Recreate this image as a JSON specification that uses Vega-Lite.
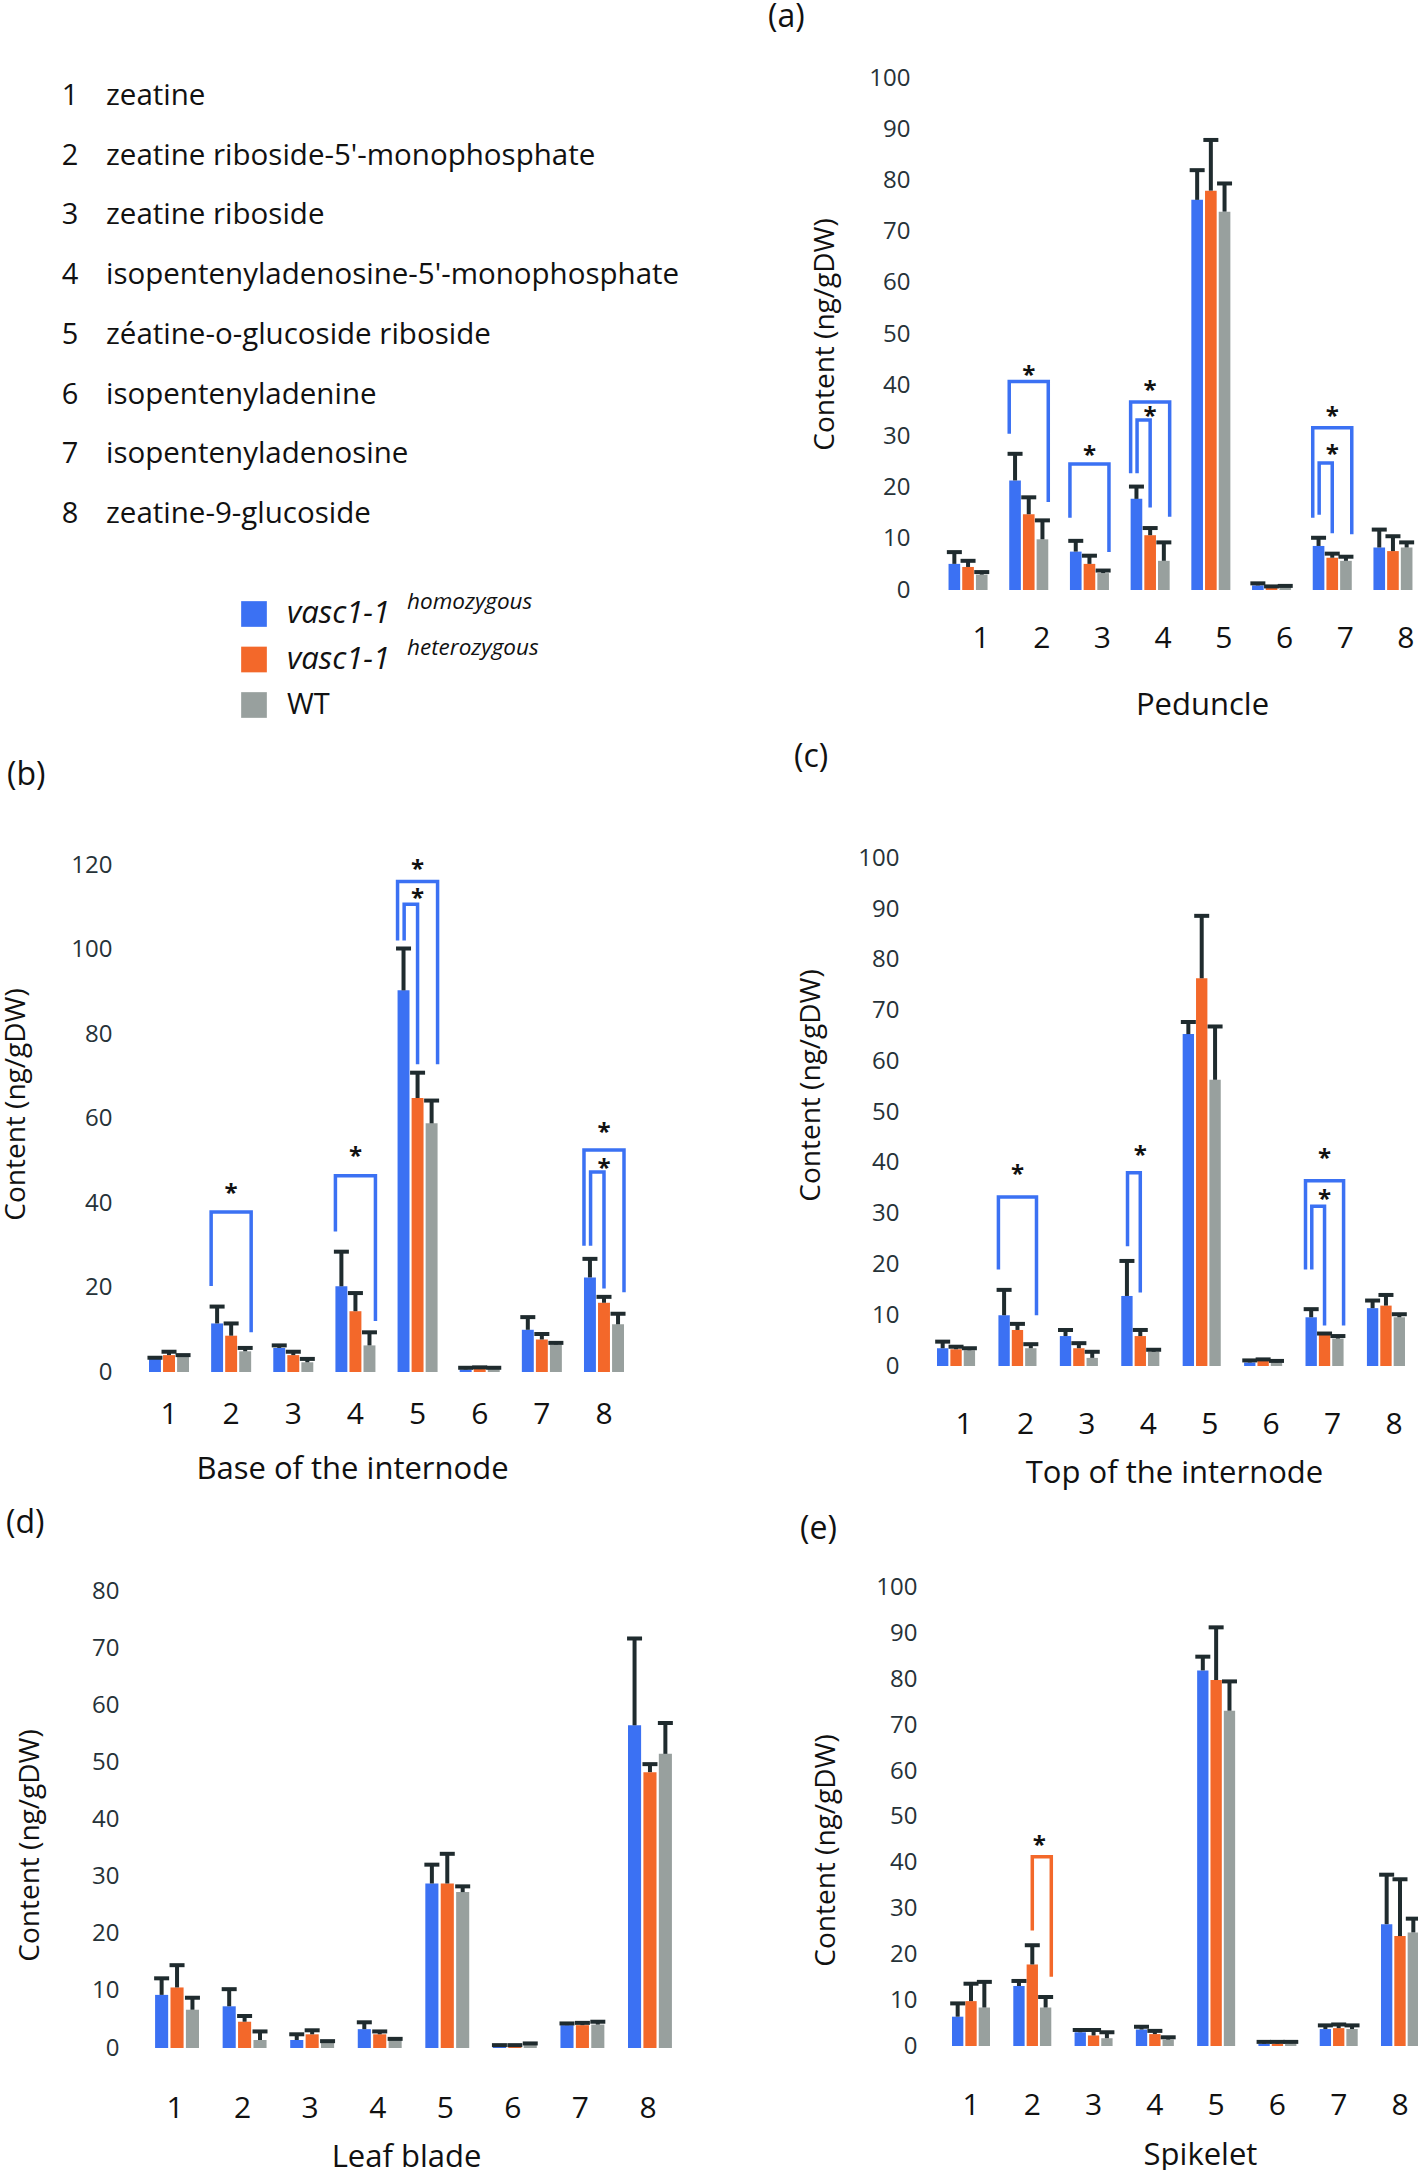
{
  "$schema": "https://vega.github.io/schema/vega-lite/v6.json",
  "background": "white",
  "padding": {"left": 2, "top": 1, "right": 0, "bottom": 0},
  "config": {
    "view": {"stroke": null},
    "font": "Open Sans",
    "axis": {"domain": false, "ticks": false, "grid": false, "tickSize": 0, "labelFont": "Open Sans", "titleFont": "Open Sans"},
    "title": {"font": "Open Sans"},
    "text": {"font": "Open Sans"}
  },
  "datasets": {
    "compounds": [
      {"num": 1, "name": "zeatine"},
      {"num": 2, "name": "zeatine riboside-5'-monophosphate"},
      {"num": 3, "name": "zeatine riboside"},
      {"num": 4, "name": "isopentenyladenosine-5'-monophosphate"},
      {"num": 5, "name": "zéatine-o-glucoside riboside"},
      {"num": 6, "name": "isopentenyladenine"},
      {"num": 7, "name": "isopentenyladenosine"},
      {"num": 8, "name": "zeatine-9-glucoside"}
    ],
    "legend": [
      {"g": "homo", "lab": "vasc1-1", "sup": "homozygous"},
      {"g": "hetero", "lab": "vasc1-1", "sup": "heterozygous"},
      {"g": "WT", "lab": "WT", "sup": ""}
    ],
    "bars": [
      {"p":"a","c":1,"g":"homo","v":5.1,"hi":7.4},{"p":"a","c":1,"g":"hetero","v":4.5,"hi":5.7},{"p":"a","c":1,"g":"WT","v":3.0,"hi":3.5},
      {"p":"a","c":2,"g":"homo","v":21.4,"hi":26.6},{"p":"a","c":2,"g":"hetero","v":14.8,"hi":18.1},{"p":"a","c":2,"g":"WT","v":9.9,"hi":13.6},
      {"p":"a","c":3,"g":"homo","v":7.5,"hi":9.6},{"p":"a","c":3,"g":"hetero","v":5.1,"hi":6.7},{"p":"a","c":3,"g":"WT","v":3.3,"hi":3.8},
      {"p":"a","c":4,"g":"homo","v":17.8,"hi":20.2},{"p":"a","c":4,"g":"hetero","v":10.7,"hi":12.1},{"p":"a","c":4,"g":"WT","v":5.7,"hi":9.3},
      {"p":"a","c":5,"g":"homo","v":76.2,"hi":82.0},{"p":"a","c":5,"g":"hetero","v":78.0,"hi":87.9},{"p":"a","c":5,"g":"WT","v":73.9,"hi":79.4},
      {"p":"a","c":6,"g":"homo","v":0.9,"hi":1.3},{"p":"a","c":6,"g":"hetero","v":0.5,"hi":0.7},{"p":"a","c":6,"g":"WT","v":0.6,"hi":0.8},
      {"p":"a","c":7,"g":"homo","v":8.6,"hi":10.2},{"p":"a","c":7,"g":"hetero","v":6.3,"hi":7.1},{"p":"a","c":7,"g":"WT","v":5.7,"hi":6.5},
      {"p":"a","c":8,"g":"homo","v":8.3,"hi":11.8},{"p":"a","c":8,"g":"hetero","v":7.6,"hi":10.5},{"p":"a","c":8,"g":"WT","v":8.3,"hi":9.3},

      {"p":"b","c":1,"g":"homo","v":3.2,"hi":3.4},{"p":"b","c":1,"g":"hetero","v":4.0,"hi":4.8},{"p":"b","c":1,"g":"WT","v":3.7,"hi":4.0},
      {"p":"b","c":2,"g":"homo","v":11.5,"hi":15.5},{"p":"b","c":2,"g":"hetero","v":8.6,"hi":11.5},{"p":"b","c":2,"g":"WT","v":4.9,"hi":5.7},
      {"p":"b","c":3,"g":"homo","v":5.7,"hi":6.3},{"p":"b","c":3,"g":"hetero","v":4.0,"hi":4.8},{"p":"b","c":3,"g":"WT","v":2.3,"hi":3.1},
      {"p":"b","c":4,"g":"homo","v":20.3,"hi":28.5},{"p":"b","c":4,"g":"hetero","v":14.4,"hi":18.7},{"p":"b","c":4,"g":"WT","v":6.3,"hi":9.4},
      {"p":"b","c":5,"g":"homo","v":90.4,"hi":100.3},{"p":"b","c":5,"g":"hetero","v":64.9,"hi":70.9},{"p":"b","c":5,"g":"WT","v":58.9,"hi":64.3},
      {"p":"b","c":6,"g":"homo","v":0.6,"hi":1.0},{"p":"b","c":6,"g":"hetero","v":0.7,"hi":1.1},{"p":"b","c":6,"g":"WT","v":0.7,"hi":1.0},
      {"p":"b","c":7,"g":"homo","v":10.0,"hi":13.0},{"p":"b","c":7,"g":"hetero","v":7.7,"hi":9.0},{"p":"b","c":7,"g":"WT","v":6.5,"hi":6.9},
      {"p":"b","c":8,"g":"homo","v":22.4,"hi":26.8},{"p":"b","c":8,"g":"hetero","v":16.4,"hi":17.8},{"p":"b","c":8,"g":"WT","v":11.3,"hi":13.8},

      {"p":"c","c":1,"g":"homo","v":3.5,"hi":4.8},{"p":"c","c":1,"g":"hetero","v":3.3,"hi":3.8},{"p":"c","c":1,"g":"WT","v":3.1,"hi":3.5},
      {"p":"c","c":2,"g":"homo","v":10.0,"hi":15.0},{"p":"c","c":2,"g":"hetero","v":7.1,"hi":8.3},{"p":"c","c":2,"g":"WT","v":3.5,"hi":4.3},
      {"p":"c","c":3,"g":"homo","v":5.9,"hi":7.1},{"p":"c","c":3,"g":"hetero","v":3.5,"hi":4.5},{"p":"c","c":3,"g":"WT","v":1.6,"hi":2.8},
      {"p":"c","c":4,"g":"homo","v":13.8,"hi":20.7},{"p":"c","c":4,"g":"hetero","v":5.9,"hi":7.1},{"p":"c","c":4,"g":"WT","v":2.8,"hi":3.2},
      {"p":"c","c":5,"g":"homo","v":65.4,"hi":67.8},{"p":"c","c":5,"g":"hetero","v":76.4,"hi":88.7},{"p":"c","c":5,"g":"WT","v":56.4,"hi":66.9},
      {"p":"c","c":6,"g":"homo","v":0.7,"hi":1.1},{"p":"c","c":6,"g":"hetero","v":1.0,"hi":1.3},{"p":"c","c":6,"g":"WT","v":0.7,"hi":1.0},
      {"p":"c","c":7,"g":"homo","v":9.6,"hi":11.2},{"p":"c","c":7,"g":"hetero","v":6.2,"hi":6.4},{"p":"c","c":7,"g":"WT","v":5.4,"hi":5.9},
      {"p":"c","c":8,"g":"homo","v":11.4,"hi":12.9},{"p":"c","c":8,"g":"hetero","v":11.9,"hi":14.0},{"p":"c","c":8,"g":"WT","v":9.6,"hi":10.2},

      {"p":"d","c":1,"g":"homo","v":9.3,"hi":12.2},{"p":"d","c":1,"g":"hetero","v":10.6,"hi":14.5},{"p":"d","c":1,"g":"WT","v":6.7,"hi":8.8},
      {"p":"d","c":2,"g":"homo","v":7.3,"hi":10.3},{"p":"d","c":2,"g":"hetero","v":4.6,"hi":5.6},{"p":"d","c":2,"g":"WT","v":1.4,"hi":2.9},
      {"p":"d","c":3,"g":"homo","v":1.4,"hi":2.4},{"p":"d","c":3,"g":"hetero","v":2.4,"hi":3.1},{"p":"d","c":3,"g":"WT","v":1.1,"hi":1.2},
      {"p":"d","c":4,"g":"homo","v":3.3,"hi":4.5},{"p":"d","c":4,"g":"hetero","v":2.4,"hi":2.9},{"p":"d","c":4,"g":"WT","v":1.4,"hi":1.6},
      {"p":"d","c":5,"g":"homo","v":28.8,"hi":32.1},{"p":"d","c":5,"g":"hetero","v":28.8,"hi":34.0},{"p":"d","c":5,"g":"WT","v":27.3,"hi":28.3},
      {"p":"d","c":6,"g":"homo","v":0.3,"hi":0.5},{"p":"d","c":6,"g":"hetero","v":0.3,"hi":0.5},{"p":"d","c":6,"g":"WT","v":0.6,"hi":0.8},
      {"p":"d","c":7,"g":"homo","v":4.0,"hi":4.3},{"p":"d","c":7,"g":"hetero","v":4.0,"hi":4.4},{"p":"d","c":7,"g":"WT","v":4.1,"hi":4.6},
      {"p":"d","c":8,"g":"homo","v":56.5,"hi":71.7},{"p":"d","c":8,"g":"hetero","v":48.3,"hi":49.7},{"p":"d","c":8,"g":"WT","v":51.5,"hi":56.9},

      {"p":"e","c":1,"g":"homo","v":6.4,"hi":9.3},{"p":"e","c":1,"g":"hetero","v":9.8,"hi":13.6},{"p":"e","c":1,"g":"WT","v":8.4,"hi":14.0},
      {"p":"e","c":2,"g":"homo","v":13.1,"hi":14.2},{"p":"e","c":2,"g":"hetero","v":17.8,"hi":22.0},{"p":"e","c":2,"g":"WT","v":8.4,"hi":10.7},
      {"p":"e","c":3,"g":"homo","v":3.0,"hi":3.5},{"p":"e","c":3,"g":"hetero","v":2.3,"hi":3.5},{"p":"e","c":3,"g":"WT","v":1.7,"hi":3.0},
      {"p":"e","c":4,"g":"homo","v":3.6,"hi":4.2},{"p":"e","c":4,"g":"hetero","v":2.6,"hi":3.3},{"p":"e","c":4,"g":"WT","v":1.4,"hi":1.9},
      {"p":"e","c":5,"g":"homo","v":82.0,"hi":85.0},{"p":"e","c":5,"g":"hetero","v":79.9,"hi":91.4},{"p":"e","c":5,"g":"WT","v":73.2,"hi":79.6},
      {"p":"e","c":6,"g":"homo","v":0.5,"hi":0.9},{"p":"e","c":6,"g":"hetero","v":0.5,"hi":0.9},{"p":"e","c":6,"g":"WT","v":0.6,"hi":0.9},
      {"p":"e","c":7,"g":"homo","v":3.7,"hi":4.5},{"p":"e","c":7,"g":"hetero","v":3.9,"hi":4.7},{"p":"e","c":7,"g":"WT","v":3.7,"hi":4.5},
      {"p":"e","c":8,"g":"homo","v":26.6,"hi":37.4},{"p":"e","c":8,"g":"hetero","v":24.0,"hi":36.4},{"p":"e","c":8,"g":"WT","v":24.8,"hi":27.8}
    ],
    "brackets": [
      {"p":"a","id":"a2","lvl":"o","ref":"homo","c":2,"g":"homo","o":1,"v":30.5},{"p":"a","id":"a2","lvl":"o","ref":"homo","c":2,"g":"homo","o":2,"v":40.7},{"p":"a","id":"a2","lvl":"o","ref":"homo","c":2,"g":"WT","o":3,"v":40.7},{"p":"a","id":"a2","lvl":"o","ref":"homo","c":2,"g":"WT","o":4,"v":17.2},
      {"p":"a","id":"a3","lvl":"o","ref":"homo","c":3,"g":"homo","o":1,"v":14.1},{"p":"a","id":"a3","lvl":"o","ref":"homo","c":3,"g":"homo","o":2,"v":24.6},{"p":"a","id":"a3","lvl":"o","ref":"homo","c":3,"g":"WT","o":3,"v":24.6},{"p":"a","id":"a3","lvl":"o","ref":"homo","c":3,"g":"WT","o":4,"v":7.4},
      {"p":"a","id":"a4o","lvl":"o","ref":"homo","c":4,"g":"homo","o":1,"v":22.8},{"p":"a","id":"a4o","lvl":"o","ref":"homo","c":4,"g":"homo","o":2,"v":36.7},{"p":"a","id":"a4o","lvl":"o","ref":"homo","c":4,"g":"WT","o":3,"v":36.7},{"p":"a","id":"a4o","lvl":"o","ref":"homo","c":4,"g":"WT","o":4,"v":14.3},
      {"p":"a","id":"a4i","lvl":"i","ref":"homo","c":4,"g":"homo","o":1,"v":22.8},{"p":"a","id":"a4i","lvl":"i","ref":"homo","c":4,"g":"homo","o":2,"v":33.2},{"p":"a","id":"a4i","lvl":"i","ref":"homo","c":4,"g":"hetero","o":3,"v":33.2},{"p":"a","id":"a4i","lvl":"i","ref":"homo","c":4,"g":"hetero","o":4,"v":16.1},
      {"p":"a","id":"a7o","lvl":"o","ref":"homo","c":7,"g":"homo","o":1,"v":14.1},{"p":"a","id":"a7o","lvl":"o","ref":"homo","c":7,"g":"homo","o":2,"v":31.7},{"p":"a","id":"a7o","lvl":"o","ref":"homo","c":7,"g":"WT","o":3,"v":31.7},{"p":"a","id":"a7o","lvl":"o","ref":"homo","c":7,"g":"WT","o":4,"v":10.9},
      {"p":"a","id":"a7i","lvl":"i","ref":"homo","c":7,"g":"homo","o":1,"v":14.7},{"p":"a","id":"a7i","lvl":"i","ref":"homo","c":7,"g":"homo","o":2,"v":24.8},{"p":"a","id":"a7i","lvl":"i","ref":"homo","c":7,"g":"hetero","o":3,"v":24.8},{"p":"a","id":"a7i","lvl":"i","ref":"homo","c":7,"g":"hetero","o":4,"v":11.1},

      {"p":"b","id":"b2","lvl":"o","ref":"homo","c":2,"g":"homo","o":1,"v":20.4},{"p":"b","id":"b2","lvl":"o","ref":"homo","c":2,"g":"homo","o":2,"v":37.9},{"p":"b","id":"b2","lvl":"o","ref":"homo","c":2,"g":"WT","o":3,"v":37.9},{"p":"b","id":"b2","lvl":"o","ref":"homo","c":2,"g":"WT","o":4,"v":9.4},
      {"p":"b","id":"b4","lvl":"o","ref":"homo","c":4,"g":"homo","o":1,"v":33.3},{"p":"b","id":"b4","lvl":"o","ref":"homo","c":4,"g":"homo","o":2,"v":46.5},{"p":"b","id":"b4","lvl":"o","ref":"homo","c":4,"g":"WT","o":3,"v":46.5},{"p":"b","id":"b4","lvl":"o","ref":"homo","c":4,"g":"WT","o":4,"v":12.1},
      {"p":"b","id":"b5o","lvl":"o","ref":"homo","c":5,"g":"homo","o":1,"v":102.2},{"p":"b","id":"b5o","lvl":"o","ref":"homo","c":5,"g":"homo","o":2,"v":116.2},{"p":"b","id":"b5o","lvl":"o","ref":"homo","c":5,"g":"WT","o":3,"v":116.2},{"p":"b","id":"b5o","lvl":"o","ref":"homo","c":5,"g":"WT","o":4,"v":72.9},
      {"p":"b","id":"b5i","lvl":"i","ref":"homo","c":5,"g":"homo","o":1,"v":102.2},{"p":"b","id":"b5i","lvl":"i","ref":"homo","c":5,"g":"homo","o":2,"v":110.8},{"p":"b","id":"b5i","lvl":"i","ref":"homo","c":5,"g":"hetero","o":3,"v":110.8},{"p":"b","id":"b5i","lvl":"i","ref":"homo","c":5,"g":"hetero","o":4,"v":72.9},
      {"p":"b","id":"b8o","lvl":"o","ref":"homo","c":8,"g":"homo","o":1,"v":29.9},{"p":"b","id":"b8o","lvl":"o","ref":"homo","c":8,"g":"homo","o":2,"v":52.6},{"p":"b","id":"b8o","lvl":"o","ref":"homo","c":8,"g":"WT","o":3,"v":52.6},{"p":"b","id":"b8o","lvl":"o","ref":"homo","c":8,"g":"WT","o":4,"v":18.9},
      {"p":"b","id":"b8i","lvl":"i","ref":"homo","c":8,"g":"homo","o":1,"v":29.9},{"p":"b","id":"b8i","lvl":"i","ref":"homo","c":8,"g":"homo","o":2,"v":47.4},{"p":"b","id":"b8i","lvl":"i","ref":"homo","c":8,"g":"hetero","o":3,"v":47.4},{"p":"b","id":"b8i","lvl":"i","ref":"homo","c":8,"g":"hetero","o":4,"v":19.8},

      {"p":"c","id":"c2","lvl":"o","ref":"homo","c":2,"g":"homo","o":1,"v":19.0},{"p":"c","id":"c2","lvl":"o","ref":"homo","c":2,"g":"homo","o":2,"v":33.3},{"p":"c","id":"c2","lvl":"o","ref":"homo","c":2,"g":"WT","o":3,"v":33.3},{"p":"c","id":"c2","lvl":"o","ref":"homo","c":2,"g":"WT","o":4,"v":10.0},
      {"p":"c","id":"c4","lvl":"i","ref":"homo","c":4,"g":"homo","o":1,"v":23.6},{"p":"c","id":"c4","lvl":"i","ref":"homo","c":4,"g":"homo","o":2,"v":38.1},{"p":"c","id":"c4","lvl":"i","ref":"homo","c":4,"g":"hetero","o":3,"v":38.1},{"p":"c","id":"c4","lvl":"i","ref":"homo","c":4,"g":"hetero","o":4,"v":14.5},
      {"p":"c","id":"c7o","lvl":"o","ref":"homo","c":7,"g":"homo","o":1,"v":19.0},{"p":"c","id":"c7o","lvl":"o","ref":"homo","c":7,"g":"homo","o":2,"v":36.5},{"p":"c","id":"c7o","lvl":"o","ref":"homo","c":7,"g":"WT","o":3,"v":36.5},{"p":"c","id":"c7o","lvl":"o","ref":"homo","c":7,"g":"WT","o":4,"v":8.0},
      {"p":"c","id":"c7i","lvl":"i","ref":"homo","c":7,"g":"homo","o":1,"v":19.0},{"p":"c","id":"c7i","lvl":"i","ref":"homo","c":7,"g":"homo","o":2,"v":31.5},{"p":"c","id":"c7i","lvl":"i","ref":"homo","c":7,"g":"hetero","o":3,"v":31.5},{"p":"c","id":"c7i","lvl":"i","ref":"homo","c":7,"g":"hetero","o":4,"v":8.0},

      {"p":"e","id":"e2","lvl":"o","ref":"hetero","c":2,"g":"hetero","o":1,"v":25.2},{"p":"e","id":"e2","lvl":"o","ref":"hetero","c":2,"g":"hetero","o":2,"v":41.3},{"p":"e","id":"e2","lvl":"o","ref":"hetero","c":2,"g":"WT","o":3,"v":41.3},{"p":"e","id":"e2","lvl":"o","ref":"hetero","c":2,"g":"WT","o":4,"v":15.1}
    ],
    "stars": [
      {"p":"a","c":2,"v":43.2},{"p":"a","c":3,"v":27.5},{"p":"a","c":4,"v":40.3},{"p":"a","c":4,"v":35.2},{"p":"a","c":7,"v":35.2},{"p":"a","c":7,"v":27.8},
      {"p":"b","c":2,"v":43.9},{"p":"b","c":4,"v":52.5},{"p":"b","c":5,"v":120.6},{"p":"b","c":5,"v":113.7},{"p":"b","c":8,"v":58.2},{"p":"b","c":8,"v":49.7},
      {"p":"c","c":2,"v":39.1},{"p":"c","c":4,"v":42.7},{"p":"c","c":7,"v":42.2},{"p":"c","c":7,"v":34.1},
      {"p":"e","c":2,"v":45.3}
    ]
  },
  "columns": 2,
  "spacing": {"row": 90, "column": 259},
  "bounds": "flush",
  "concat": [
    {
      "width": 10, "height": 640,
      "resolve": {"scale": {"y": "independent"}},
      "layer": [
        {"data": {"name": "compounds"},
         "mark": {"type": "text", "align": "center", "baseline": "middle", "xOffset": -84, "fontSize": 29, "color": "#111111"},
         "encoding": {"y": {"field": "num", "type": "ordinal", "scale": {"type": "point", "padding": 0, "range": [18, 436]}, "axis": null}, "text": {"field": "num"}}},
        {"data": {"name": "compounds"},
         "mark": {"type": "text", "align": "left", "baseline": "middle", "xOffset": -48, "fontSize": 29.5, "color": "#111111"},
         "encoding": {"y": {"field": "num", "type": "ordinal", "scale": {"type": "point", "padding": 0, "range": [18, 436]}, "axis": null}, "text": {"field": "name"}}},
        {"data": {"name": "legend"},
         "mark": {"type": "point", "shape": "square", "filled": true, "size": 660, "opacity": 1, "xOffset": 100},
         "encoding": {"y": {"field": "g", "type": "nominal", "scale": {"type": "point", "domain": ["homo","hetero","WT"], "padding": 0, "range": [536, 627]}, "axis": null},
                      "color": {"field": "g", "type": "nominal", "scale": {"domain": ["homo","hetero","WT"], "range": ["#3B71F3","#F3682A","#98A09E"]}, "legend": null}}},
        {"data": {"name": "legend"}, "transform": [{"filter": "datum.g != 'WT'"}],
         "mark": {"type": "text", "align": "left", "baseline": "middle", "xOffset": 133, "fontSize": 31, "fontStyle": "italic", "color": "#111111"},
         "encoding": {"y": {"field": "g", "type": "nominal", "scale": {"type": "point", "domain": ["homo","hetero","WT"], "padding": 0, "range": [536, 627]}, "axis": null}, "text": {"field": "lab"}}},
        {"data": {"name": "legend"}, "transform": [{"filter": "datum.g == 'WT'"}],
         "mark": {"type": "text", "align": "left", "baseline": "middle", "xOffset": 133, "fontSize": 29, "color": "#111111"},
         "encoding": {"y": {"field": "g", "type": "nominal", "scale": {"type": "point", "domain": ["homo","hetero","WT"], "padding": 0, "range": [536, 627]}, "axis": null}, "text": {"field": "lab"}}},
        {"data": {"name": "legend"}, "transform": [{"filter": "datum.g != 'WT'"}],
         "mark": {"type": "text", "align": "left", "baseline": "middle", "xOffset": 253, "yOffset": -12, "fontSize": 22.5, "fontStyle": "italic", "color": "#111111"},
         "encoding": {"y": {"field": "g", "type": "nominal", "scale": {"type": "point", "domain": ["homo","hetero","WT"], "padding": 0, "range": [536, 627]}, "axis": null}, "text": {"field": "sup"}}}
      ]
    },
    {
      "width": 487, "height": 512,
      "title": {"text": "(a)", "anchor": "start", "frame": "group", "orient": "top", "offset": 0, "baseline": "middle", "dx": -169, "dy": -17, "fontSize": 32, "fontWeight": "normal", "color": "#111111"},
      "resolve": {"scale": {"xOffset": "independent"}},
      "encoding": {
        "x": {"field": "c", "type": "ordinal", "scale": {"domain": [1,2,3,4,5,6,7,8], "paddingInner": 0.357, "paddingOuter": 0.19},
              "axis": {"title": "Peduncle", "labelAngle": 0, "labelFontSize": 30, "labelPadding": 33, "labelOffset": 13, "labelColor": "#111111", "titleFontSize": 31, "titleFontWeight": "normal", "titleColor": "#111111", "titleX": 265, "titleY": 115, "titleBaseline": "middle", "titleAlign": "center"}},
        "y": {"field": "v", "type": "quantitative", "stack": null, "scale": {"domain": [0, 100], "nice": false},
              "axis": {"title": "Content (ng/gDW)", "values": [0,10,20,30,40,50,60,70,80,90,100], "labelFontSize": 24, "labelPadding": 27, "labelColor": "#263238", "titleFontSize": 28, "titleFontWeight": "normal", "titleColor": "#111111", "titleX": -112, "titleY": 256, "titleBaseline": "middle", "titleAlign": "center", "titleAngle": -90}}
      },
      "layer": [
        {"data": {"name": "bars"}, "transform": [{"filter": "datum.p == 'a'"}], "mark": {"type": "bar"},
         "encoding": {"xOffset": {"field": "g", "type": "nominal", "scale": {"domain": ["homo","hetero","WT"], "paddingInner": 0.15, "paddingOuter": 0}},
                      "color": {"field": "g", "type": "nominal", "scale": {"domain": ["homo","hetero","WT"], "range": ["#3B71F3","#F3682A","#98A09E"]}, "legend": null}}},
        {"data": {"name": "bars"}, "transform": [{"filter": "datum.p == 'a'"}], "mark": {"type": "rule", "color": "#1F2B2E", "strokeWidth": 4},
         "encoding": {"xOffset": {"field": "g", "type": "nominal", "scale": {"domain": ["homo","hetero","WT"], "paddingInner": 0.15, "paddingOuter": 0}}, "y2": {"field": "hi"}}},
        {"data": {"name": "bars"}, "transform": [{"filter": "datum.p == 'a'"}], "mark": {"type": "tick", "color": "#1F2B2E", "thickness": 4, "size": 15, "opacity": 1},
         "encoding": {"xOffset": {"field": "g", "type": "nominal", "scale": {"domain": ["homo","hetero","WT"], "paddingInner": 0.15, "paddingOuter": 0}},
                      "y": {"field": "hi", "type": "quantitative"}}},
        {"data": {"name": "brackets"}, "transform": [{"filter": "datum.p == 'a' && datum.lvl == 'o'"}], "mark": {"type": "line", "strokeWidth": 3.5},
         "encoding": {"xOffset": {"field": "g", "type": "nominal", "scale": {"domain": ["homo","hetero","WT"], "paddingInner": 0.733, "paddingOuter": 0}},
                      "color": {"field": "ref", "type": "nominal", "scale": {"domain": ["homo","hetero","WT"], "range": ["#3B71F3","#F3682A","#98A09E"]}, "legend": null},
                      "detail": {"field": "id"}, "order": {"field": "o"}}},
        {"data": {"name": "brackets"}, "transform": [{"filter": "datum.p == 'a' && datum.lvl == 'i'"}], "mark": {"type": "line", "strokeWidth": 3.5},
         "encoding": {"xOffset": {"field": "g", "type": "nominal", "scale": {"domain": ["homo","hetero","WT"], "paddingInner": 0.5, "paddingOuter": 0.491}},
                      "color": {"field": "ref", "type": "nominal", "scale": {"domain": ["homo","hetero","WT"], "range": ["#3B71F3","#F3682A","#98A09E"]}, "legend": null},
                      "detail": {"field": "id"}, "order": {"field": "o"}}},
        {"data": {"name": "stars"}, "transform": [{"filter": "datum.p == 'a'"}], "mark": {"type": "text", "text": "*", "fontSize": 24, "fontWeight": "bold", "baseline": "middle", "dy": 7, "color": "#111111"}}
      ]
    },
    {
      "width": 475, "height": 564,
      "title": {"text": "(b)", "anchor": "start", "frame": "group", "orient": "top", "offset": 0, "baseline": "middle", "dx": -142, "dy": -1, "fontSize": 32, "fontWeight": "normal", "color": "#111111"},
      "resolve": {"scale": {"xOffset": "independent"}},
      "encoding": {
        "x": {"field": "c", "type": "ordinal", "scale": {"domain": [1,2,3,4,5,6,7,8], "paddingInner": 0.356, "paddingOuter": 0},
              "axis": {"title": "Base of the internode", "labelAngle": 0, "labelFontSize": 30, "labelPadding": 27, "labelOffset": 0, "labelColor": "#111111", "titleFontSize": 31, "titleFontWeight": "normal", "titleColor": "#111111", "titleX": 203, "titleY": 97, "titleBaseline": "middle", "titleAlign": "center"}},
        "y": {"field": "v", "type": "quantitative", "stack": null, "scale": {"domain": [0, 133.6], "nice": false},
              "axis": {"title": "Content (ng/gDW)", "values": [0,20,40,60,80,100,120], "labelFontSize": 24, "labelPadding": 37, "labelColor": "#263238", "titleFontSize": 28, "titleFontWeight": "normal", "titleColor": "#111111", "titleX": -133, "titleY": 296, "titleBaseline": "middle", "titleAlign": "center", "titleAngle": -90}}
      },
      "layer": [
        {"data": {"name": "bars"}, "transform": [{"filter": "datum.p == 'b'"}], "mark": {"type": "bar"},
         "encoding": {"xOffset": {"field": "g", "type": "nominal", "scale": {"domain": ["homo","hetero","WT"], "paddingInner": 0.15, "paddingOuter": 0}},
                      "color": {"field": "g", "type": "nominal", "scale": {"domain": ["homo","hetero","WT"], "range": ["#3B71F3","#F3682A","#98A09E"]}, "legend": null}}},
        {"data": {"name": "bars"}, "transform": [{"filter": "datum.p == 'b'"}], "mark": {"type": "rule", "color": "#1F2B2E", "strokeWidth": 4},
         "encoding": {"xOffset": {"field": "g", "type": "nominal", "scale": {"domain": ["homo","hetero","WT"], "paddingInner": 0.15, "paddingOuter": 0}}, "y2": {"field": "hi"}}},
        {"data": {"name": "bars"}, "transform": [{"filter": "datum.p == 'b'"}], "mark": {"type": "tick", "color": "#1F2B2E", "thickness": 4, "size": 15, "opacity": 1},
         "encoding": {"xOffset": {"field": "g", "type": "nominal", "scale": {"domain": ["homo","hetero","WT"], "paddingInner": 0.15, "paddingOuter": 0}},
                      "y": {"field": "hi", "type": "quantitative"}}},
        {"data": {"name": "brackets"}, "transform": [{"filter": "datum.p == 'b' && datum.lvl == 'o'"}], "mark": {"type": "line", "strokeWidth": 3.5},
         "encoding": {"xOffset": {"field": "g", "type": "nominal", "scale": {"domain": ["homo","hetero","WT"], "paddingInner": 0.733, "paddingOuter": 0}},
                      "color": {"field": "ref", "type": "nominal", "scale": {"domain": ["homo","hetero","WT"], "range": ["#3B71F3","#F3682A","#98A09E"]}, "legend": null},
                      "detail": {"field": "id"}, "order": {"field": "o"}}},
        {"data": {"name": "brackets"}, "transform": [{"filter": "datum.p == 'b' && datum.lvl == 'i'"}], "mark": {"type": "line", "strokeWidth": 3.5},
         "encoding": {"xOffset": {"field": "g", "type": "nominal", "scale": {"domain": ["homo","hetero","WT"], "paddingInner": 0.5, "paddingOuter": 0.491}},
                      "color": {"field": "ref", "type": "nominal", "scale": {"domain": ["homo","hetero","WT"], "range": ["#3B71F3","#F3682A","#98A09E"]}, "legend": null},
                      "detail": {"field": "id"}, "order": {"field": "o"}}},
        {"data": {"name": "stars"}, "transform": [{"filter": "datum.p == 'b'"}], "mark": {"type": "text", "text": "*", "fontSize": 24, "fontWeight": "bold", "baseline": "middle", "dy": 7, "color": "#111111"}}
      ]
    },
    {
      "width": 468, "height": 558,
      "title": {"text": "(c)", "anchor": "start", "frame": "group", "orient": "top", "offset": 0, "baseline": "middle", "dx": -143, "dy": -19, "fontSize": 32, "fontWeight": "normal", "color": "#111111"},
      "resolve": {"scale": {"xOffset": "independent"}},
      "encoding": {
        "x": {"field": "c", "type": "ordinal", "scale": {"domain": [1,2,3,4,5,6,7,8], "paddingInner": 0.38, "paddingOuter": 0},
              "axis": {"title": "Top of the internode", "labelAngle": 0, "labelFontSize": 30, "labelPadding": 43, "labelOffset": 8, "labelColor": "#111111", "titleFontSize": 31, "titleFontWeight": "normal", "titleColor": "#111111", "titleX": 237, "titleY": 107, "titleBaseline": "middle", "titleAlign": "center"}},
        "y": {"field": "v", "type": "quantitative", "stack": null, "scale": {"domain": [0, 109.95], "nice": false},
              "axis": {"title": "Content (ng/gDW)", "values": [0,10,20,30,40,50,60,70,80,90,100], "labelFontSize": 24, "labelPadding": 38, "labelColor": "#263238", "titleFontSize": 28, "titleFontWeight": "normal", "titleColor": "#111111", "titleX": -126, "titleY": 277, "titleBaseline": "middle", "titleAlign": "center", "titleAngle": -90}}
      },
      "layer": [
        {"data": {"name": "bars"}, "transform": [{"filter": "datum.p == 'c'"}], "mark": {"type": "bar"},
         "encoding": {"xOffset": {"field": "g", "type": "nominal", "scale": {"domain": ["homo","hetero","WT"], "paddingInner": 0.15, "paddingOuter": 0}},
                      "color": {"field": "g", "type": "nominal", "scale": {"domain": ["homo","hetero","WT"], "range": ["#3B71F3","#F3682A","#98A09E"]}, "legend": null}}},
        {"data": {"name": "bars"}, "transform": [{"filter": "datum.p == 'c'"}], "mark": {"type": "rule", "color": "#1F2B2E", "strokeWidth": 4},
         "encoding": {"xOffset": {"field": "g", "type": "nominal", "scale": {"domain": ["homo","hetero","WT"], "paddingInner": 0.15, "paddingOuter": 0}}, "y2": {"field": "hi"}}},
        {"data": {"name": "bars"}, "transform": [{"filter": "datum.p == 'c'"}], "mark": {"type": "tick", "color": "#1F2B2E", "thickness": 4, "size": 15, "opacity": 1},
         "encoding": {"xOffset": {"field": "g", "type": "nominal", "scale": {"domain": ["homo","hetero","WT"], "paddingInner": 0.15, "paddingOuter": 0}},
                      "y": {"field": "hi", "type": "quantitative"}}},
        {"data": {"name": "brackets"}, "transform": [{"filter": "datum.p == 'c' && datum.lvl == 'o'"}], "mark": {"type": "line", "strokeWidth": 3.5},
         "encoding": {"xOffset": {"field": "g", "type": "nominal", "scale": {"domain": ["homo","hetero","WT"], "paddingInner": 0.733, "paddingOuter": 0}},
                      "color": {"field": "ref", "type": "nominal", "scale": {"domain": ["homo","hetero","WT"], "range": ["#3B71F3","#F3682A","#98A09E"]}, "legend": null},
                      "detail": {"field": "id"}, "order": {"field": "o"}}},
        {"data": {"name": "brackets"}, "transform": [{"filter": "datum.p == 'c' && datum.lvl == 'i'"}], "mark": {"type": "line", "strokeWidth": 3.5},
         "encoding": {"xOffset": {"field": "g", "type": "nominal", "scale": {"domain": ["homo","hetero","WT"], "paddingInner": 0.5, "paddingOuter": 0.491}},
                      "color": {"field": "ref", "type": "nominal", "scale": {"domain": ["homo","hetero","WT"], "range": ["#3B71F3","#F3682A","#98A09E"]}, "legend": null},
                      "detail": {"field": "id"}, "order": {"field": "o"}}},
        {"data": {"name": "stars"}, "transform": [{"filter": "datum.p == 'c'"}], "mark": {"type": "text", "text": "*", "fontSize": 24, "fontWeight": "bold", "baseline": "middle", "dy": 7, "color": "#111111"}}
      ]
    },
    {
      "width": 529, "height": 586,
      "title": {"text": "(d)", "anchor": "start", "frame": "group", "orient": "top", "offset": 0, "baseline": "middle", "dx": -143, "dy": 93, "fontSize": 32, "fontWeight": "normal", "color": "#111111"},
      "resolve": {"scale": {"xOffset": "independent"}},
      "encoding": {
        "x": {"field": "c", "type": "ordinal", "scale": {"domain": [1,2,3,4,5,6,7,8], "paddingInner": 0.35, "paddingOuter": 0.09},
              "axis": {"title": "Leaf blade", "labelAngle": 0, "labelFontSize": 30, "labelPadding": 45, "labelOffset": -2, "labelColor": "#111111", "titleFontSize": 31, "titleFontWeight": "normal", "titleColor": "#111111", "titleX": 257, "titleY": 109, "titleBaseline": "middle", "titleAlign": "center"}},
        "y": {"field": "v", "type": "quantitative", "stack": null, "scale": {"domain": [0, 102.6], "nice": false},
              "axis": {"title": "Content (ng/gDW)", "values": [0,10,20,30,40,50,60,70,80], "labelFontSize": 24, "labelPadding": 30, "labelColor": "#263238", "titleFontSize": 28, "titleFontWeight": "normal", "titleColor": "#111111", "titleX": -119, "titleY": 383, "titleBaseline": "middle", "titleAlign": "center", "titleAngle": -90}}
      },
      "layer": [
        {"data": {"name": "bars"}, "transform": [{"filter": "datum.p == 'd'"}], "mark": {"type": "bar"},
         "encoding": {"xOffset": {"field": "g", "type": "nominal", "scale": {"domain": ["homo","hetero","WT"], "paddingInner": 0.15, "paddingOuter": 0}},
                      "color": {"field": "g", "type": "nominal", "scale": {"domain": ["homo","hetero","WT"], "range": ["#3B71F3","#F3682A","#98A09E"]}, "legend": null}}},
        {"data": {"name": "bars"}, "transform": [{"filter": "datum.p == 'd'"}], "mark": {"type": "rule", "color": "#1F2B2E", "strokeWidth": 4},
         "encoding": {"xOffset": {"field": "g", "type": "nominal", "scale": {"domain": ["homo","hetero","WT"], "paddingInner": 0.15, "paddingOuter": 0}}, "y2": {"field": "hi"}}},
        {"data": {"name": "bars"}, "transform": [{"filter": "datum.p == 'd'"}], "mark": {"type": "tick", "color": "#1F2B2E", "thickness": 4, "size": 15, "opacity": 1},
         "encoding": {"xOffset": {"field": "g", "type": "nominal", "scale": {"domain": ["homo","hetero","WT"], "paddingInner": 0.15, "paddingOuter": 0}},
                      "y": {"field": "hi", "type": "quantitative"}}}
      ]
    },
    {
      "width": 497, "height": 584,
      "title": {"text": "(e)", "anchor": "start", "frame": "group", "orient": "top", "offset": 0, "baseline": "middle", "dx": -137, "dy": 99, "fontSize": 32, "fontWeight": "normal", "color": "#111111"},
      "resolve": {"scale": {"xOffset": "independent"}},
      "encoding": {
        "x": {"field": "c", "type": "ordinal", "scale": {"domain": [1,2,3,4,5,6,7,8], "paddingInner": 0.38, "paddingOuter": 0.245},
              "axis": {"title": "Spikelet", "labelAngle": 0, "labelFontSize": 30, "labelPadding": 44, "labelOffset": 0, "labelColor": "#111111", "titleFontSize": 31, "titleFontWeight": "normal", "titleColor": "#111111", "titleX": 263, "titleY": 109, "titleBaseline": "middle", "titleAlign": "center"}},
        "y": {"field": "v", "type": "quantitative", "stack": null, "scale": {"domain": [0, 127.5], "nice": false},
              "axis": {"title": "Content (ng/gDW)", "values": [0,10,20,30,40,50,60,70,80,90,100], "labelFontSize": 24, "labelPadding": 20, "labelColor": "#263238", "titleFontSize": 28, "titleFontWeight": "normal", "titleColor": "#111111", "titleX": -111, "titleY": 388, "titleBaseline": "middle", "titleAlign": "center", "titleAngle": -90}}
      },
      "layer": [
        {"data": {"name": "bars"}, "transform": [{"filter": "datum.p == 'e'"}], "mark": {"type": "bar"},
         "encoding": {"xOffset": {"field": "g", "type": "nominal", "scale": {"domain": ["homo","hetero","WT"], "paddingInner": 0.15, "paddingOuter": 0}},
                      "color": {"field": "g", "type": "nominal", "scale": {"domain": ["homo","hetero","WT"], "range": ["#3B71F3","#F3682A","#98A09E"]}, "legend": null}}},
        {"data": {"name": "bars"}, "transform": [{"filter": "datum.p == 'e'"}], "mark": {"type": "rule", "color": "#1F2B2E", "strokeWidth": 4},
         "encoding": {"xOffset": {"field": "g", "type": "nominal", "scale": {"domain": ["homo","hetero","WT"], "paddingInner": 0.15, "paddingOuter": 0}}, "y2": {"field": "hi"}}},
        {"data": {"name": "bars"}, "transform": [{"filter": "datum.p == 'e'"}], "mark": {"type": "tick", "color": "#1F2B2E", "thickness": 4, "size": 15, "opacity": 1},
         "encoding": {"xOffset": {"field": "g", "type": "nominal", "scale": {"domain": ["homo","hetero","WT"], "paddingInner": 0.15, "paddingOuter": 0}},
                      "y": {"field": "hi", "type": "quantitative"}}},
        {"data": {"name": "brackets"}, "transform": [{"filter": "datum.p == 'e'"}], "mark": {"type": "line", "strokeWidth": 3.5},
         "encoding": {"xOffset": {"field": "g", "type": "nominal", "scale": {"domain": ["homo","hetero","WT"], "paddingInner": 0.733, "paddingOuter": 0}},
                      "color": {"field": "ref", "type": "nominal", "scale": {"domain": ["homo","hetero","WT"], "range": ["#3B71F3","#F3682A","#98A09E"]}, "legend": null},
                      "detail": {"field": "id"}, "order": {"field": "o"}}},
        {"data": {"name": "stars"}, "transform": [{"filter": "datum.p == 'e'"}], "mark": {"type": "text", "text": "*", "fontSize": 24, "fontWeight": "bold", "baseline": "middle", "dy": 7, "xOffset": 7, "color": "#111111"}}
      ]
    }
  ]
}
